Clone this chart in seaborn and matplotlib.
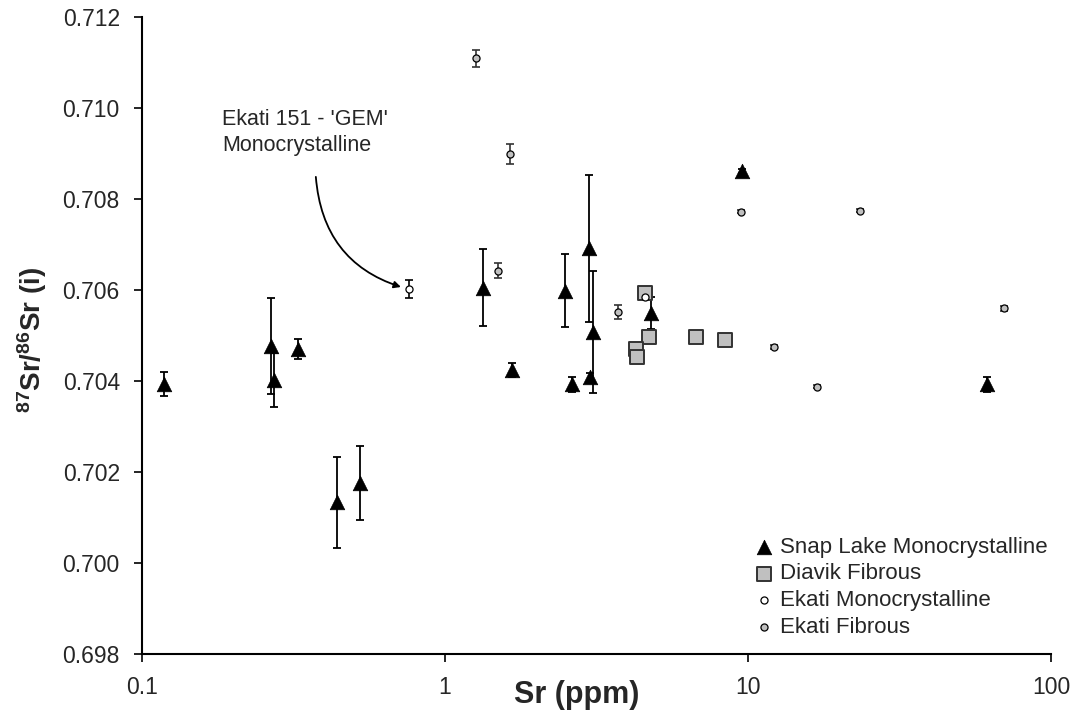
import numpy as np
import pandas as pd
import seaborn as sns
import matplotlib
matplotlib.use('Agg')
import matplotlib.pyplot as plt

# Snap Lake monocrystalline
snap_sr = [0.118, 0.267, 0.273, 0.327, 0.441, 0.524, 1.338, 1.66, 2.489, 2.62, 2.99, 3.01, 3.087, 4.77, 9.53, 61.6]
snap_ratio = [0.70394, 0.70477, 0.70402, 0.70470, 0.70134, 0.70176, 0.70606, 0.70424,
              0.70599, 0.70393, 0.70692, 0.70409, 0.70508, 0.70550, 0.70862, 0.70393]
snap_err = [0.00027, 0.00105, 0.00059, 0.00022, 0.00100, 0.00082, 0.00085, 0.00015,
            0.00080, 0.00016, 0.00161, 0.00010, 0.00134, 0.00035, 0.00005, 0.00017]

# Diavik fibrous
diavik_sr = [4.57, 4.70, 4.26, 4.29, 6.72, 8.42]
diavik_ratio = [0.70595, 0.70497, 0.70470, 0.70453, 0.70498, 0.70491]

# Ekati monocrystalline
ekm_sr = [0.760, 4.57]
ekm_ratio = [0.70602, 0.70586]
ekm_err = [0.00020, 0.00005]

# Ekati fibrous
ekf_sr = [1.262, 1.639, 1.50, 3.715, 9.46, 23.4, 12.2, 16.93, 70.1]
ekf_ratio = [0.71110, 0.70899, 0.70643, 0.70552, 0.70773, 0.70775, 0.70475, 0.70388, 0.70560]
ekf_err = [0.00019, 0.00022, 0.00016, 0.00016, 0.00003, 0.00003, 0.00004, 0.00003, 0.00005]

y_ticks = [0.698, 0.700, 0.702, 0.704, 0.706, 0.708, 0.710, 0.712]
x_ticks = [0.1, 1, 10, 100]
x_ticklabels = ['0.1', '1', '10', '100']

snap = pd.DataFrame({'sr': snap_sr, 'ratio': snap_ratio, 'err': snap_err})
diavik = pd.DataFrame({'sr': diavik_sr, 'ratio': diavik_ratio})
ekm = pd.DataFrame({'sr': ekm_sr, 'ratio': ekm_ratio, 'err': ekm_err})
ekf = pd.DataFrame({'sr': ekf_sr, 'ratio': ekf_ratio, 'err': ekf_err})

sns.set_style('ticks')
plt.rcParams['font.family'] = ['Liberation Sans', 'DejaVu Sans']
plt.rcParams['mathtext.fontset'] = 'custom'
plt.rcParams['mathtext.rm'] = 'Liberation Sans'
plt.rcParams['mathtext.bf'] = 'Liberation Sans:bold'

fig = plt.figure(figsize=(10.8, 7.19), dpi=100)
ax = fig.add_axes([142 / 1080, 1 - 654 / 719, 909 / 1080, 636.5 / 719])

# error bars first, markers on top
ax.errorbar(snap['sr'], snap['ratio'], yerr=snap['err'], fmt='none', ecolor='black',
            elinewidth=1.3, capsize=3, capthick=1.3, zorder=2)
ax.errorbar(ekm['sr'], ekm['ratio'], yerr=ekm['err'], fmt='none', ecolor='black',
            elinewidth=1.2, capsize=3, capthick=1.2, zorder=2)
ax.errorbar(ekf['sr'], ekf['ratio'], yerr=ekf['err'], fmt='none', ecolor='#333333',
            elinewidth=1.2, capsize=3, capthick=1.2, zorder=2)

sns.scatterplot(data=snap, x='sr', y='ratio', marker='^', s=110, color='black',
                edgecolor='black', linewidth=0.5, label='Snap Lake Monocrystalline', ax=ax, zorder=4)
sns.scatterplot(data=diavik, x='sr', y='ratio', marker='s', s=90, color='#c0c0c0',
                edgecolor='#333333', linewidth=1.4, label='Diavik Fibrous', ax=ax, zorder=3)
sns.scatterplot(data=ekm, x='sr', y='ratio', marker='o', s=26, color='white',
                edgecolor='black', linewidth=0.9, label='Ekati Monocrystalline', ax=ax, zorder=5)
sns.scatterplot(data=ekf, x='sr', y='ratio', marker='o', s=26, color='#c0c0c0',
                edgecolor='black', linewidth=0.9, label='Ekati Fibrous', ax=ax, zorder=5)

ax.set_xscale('log')
ax.set_xlim(0.1, 100)
ax.set_ylim(0.698, 0.712)
ax.set_xticks(x_ticks)
ax.set_xticklabels(x_ticklabels)
ax.xaxis.set_minor_locator(matplotlib.ticker.NullLocator())
ax.set_yticks(y_ticks)
ax.yaxis.set_major_formatter(matplotlib.ticker.FormatStrFormatter('%.3f'))
ax.tick_params(axis='both', labelsize=16.5, length=6, width=1.2, color='black', pad=10)

for side in ['top', 'right']:
    ax.spines[side].set_visible(False)
for side in ['left', 'bottom']:
    ax.spines[side].set_linewidth(1.5)
    ax.spines[side].set_color('black')

ax.set_xlabel('Sr (ppm)', fontsize=22, fontweight='bold', va='center')
ax.xaxis.set_label_coords((577 - 142) / 909, (654 - 695) / 636.5)
ax.set_ylabel(r'$\mathbf{^{87}}$Sr/$\mathbf{^{86}}$Sr (i)', fontsize=20, fontweight='bold', va='center')
ax.yaxis.set_label_coords((32 - 142) / 909, (654 - 340) / 636.5)

ax.legend(loc='upper left', bbox_to_anchor=((742 - 142) / 909, (654 - 528) / 636.5),
          frameon=False, fontsize=16, handletextpad=0.1, labelspacing=0.25,
          borderaxespad=0, handlelength=1.2, scatterpoints=1)

# annotation for the Ekati 151 'GEM' stone
ax.text((222 - 142) / 909, (654 - 109) / 636.5, "Ekati 151 - 'GEM'\nMonocrystalline",
        transform=ax.transAxes, fontsize=15.5, va='top', ha='left', linespacing=1.3)
ax.annotate('', xy=(ekm_sr[0], ekm_ratio[0]), xytext=(-67, 81), textcoords='offset points',
            arrowprops=dict(arrowstyle='-|>', color='black', lw=1.3, shrinkA=0, shrinkB=6,
                            mutation_scale=10, connectionstyle='arc3,rad=0.35'))

fig.savefig('out.png', dpi=100)
